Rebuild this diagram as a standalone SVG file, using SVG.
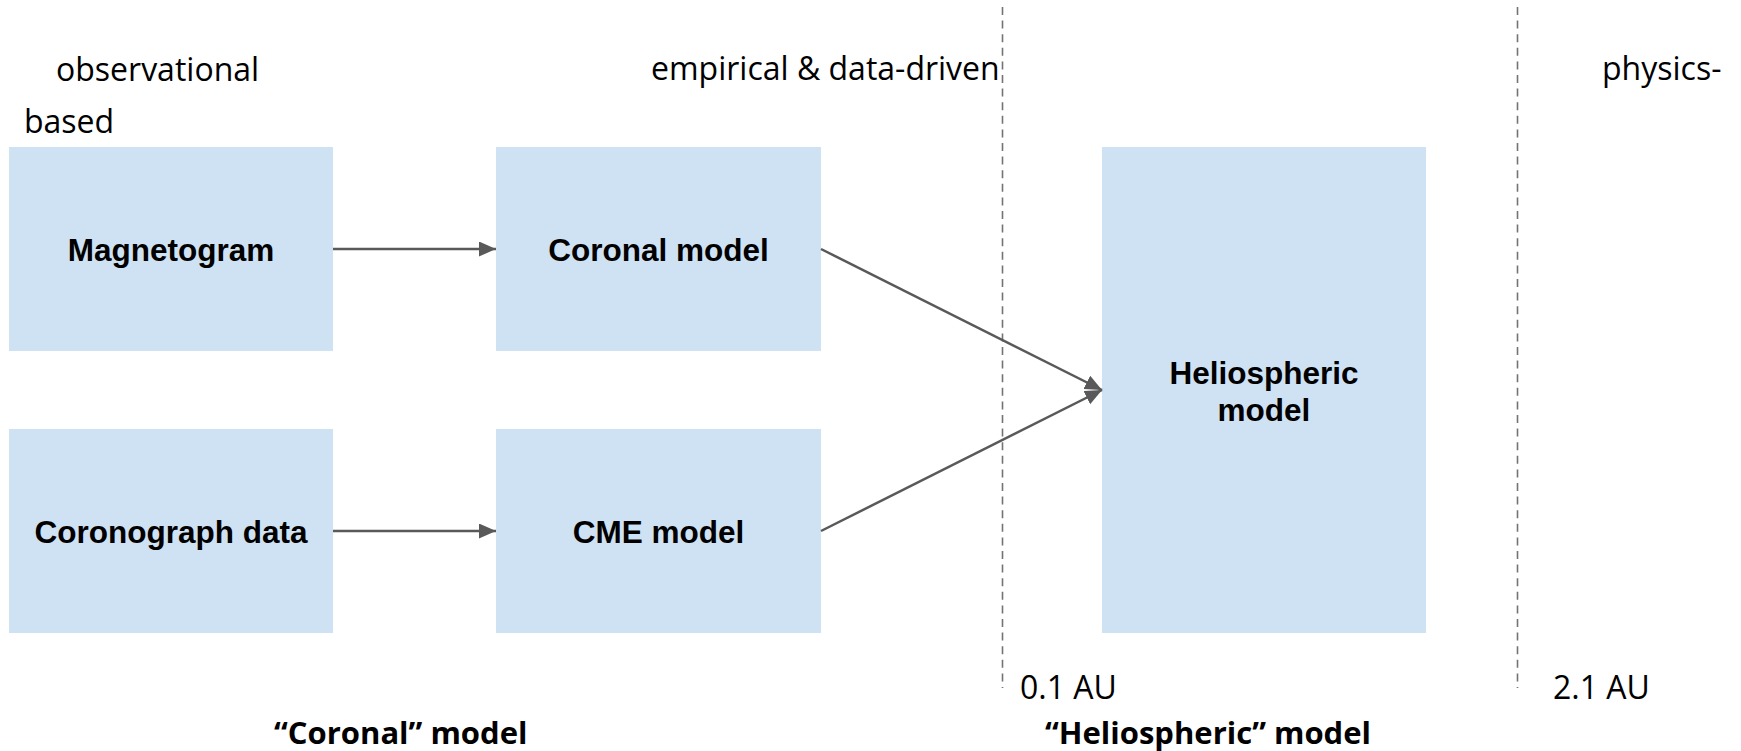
<svg xmlns="http://www.w3.org/2000/svg" width="1741" height="751" viewBox="0 0 1741 751">
<style>
.box{fill:#cfe2f3;}
.nl{font-family:"Liberation Sans",Arial,sans-serif;font-weight:bold;font-size:31.5px;fill:#000;text-anchor:middle;}
.lt{font-family:"Open Sans","Noto Sans",sans-serif;font-size:32px;fill:#000;}
.bt{font-family:"Open Sans","Noto Sans",sans-serif;font-weight:bold;font-size:31px;fill:#000;}
.conn{stroke:#595959;stroke-width:2.5;fill:none;marker-end:url(#ah);}
.div{stroke:#737373;stroke-width:1.6;stroke-dasharray:8 5.6;fill:none;}
</style>
<defs>
<marker id="ah" markerUnits="userSpaceOnUse" markerWidth="18" markerHeight="16" refX="17" refY="7.5" orient="auto">
<path d="M0,0 L17,7.5 L0,15 z" fill="#595959"/>
</marker>
</defs>
<rect width="1741" height="751" fill="#fff"/>
<g id="dividers">
<line class="div" x1="1002.5" y1="7" x2="1002.5" y2="688"/>
<line class="div" x1="1517.5" y1="7" x2="1517.5" y2="688"/>
</g>
<g id="labels">
<text class="lt" x="56" y="81">observational</text>
<text class="lt" x="24" y="133">based</text>
<text class="lt" x="651" y="80">empirical &amp; data-driven</text>
<text class="lt" x="1602" y="80">physics-</text>
<text class="lt" x="1020" y="699">0.1 AU</text>
<text class="lt" x="1553" y="699">2.1 AU</text>
<text class="bt" x="274" y="744">“Coronal” model</text>
<text class="bt" x="1045" y="744">“Heliospheric” model</text>
</g>
<g id="magnetogram">
<rect class="box" x="9" y="147" width="324" height="204"/>
<text class="nl" x="171" y="261">Magnetogram</text>
</g>
<g id="coronal-model">
<rect class="box" x="496" y="147" width="325" height="204"/>
<text class="nl" x="658.5" y="261">Coronal model</text>
</g>
<g id="coronograph-data">
<rect class="box" x="9" y="429" width="324" height="204"/>
<text class="nl" x="171" y="543">Coronograph data</text>
</g>
<g id="cme-model">
<rect class="box" x="496" y="429" width="325" height="204"/>
<text class="nl" x="658.5" y="543">CME model</text>
</g>
<g id="heliospheric-model">
<rect class="box" x="1102" y="147" width="324" height="486"/>
<text class="nl" x="1264" y="384">Heliospheric</text>
<text class="nl" x="1264" y="421">model</text>
</g>
<g id="connectors">
<line class="conn" x1="333" y1="249" x2="496" y2="249"/>
<line class="conn" x1="333" y1="531" x2="496" y2="531"/>
<line class="conn" x1="821" y1="249" x2="1102" y2="390"/>
<line class="conn" x1="821" y1="531" x2="1102" y2="390"/>
</g>
</svg>
